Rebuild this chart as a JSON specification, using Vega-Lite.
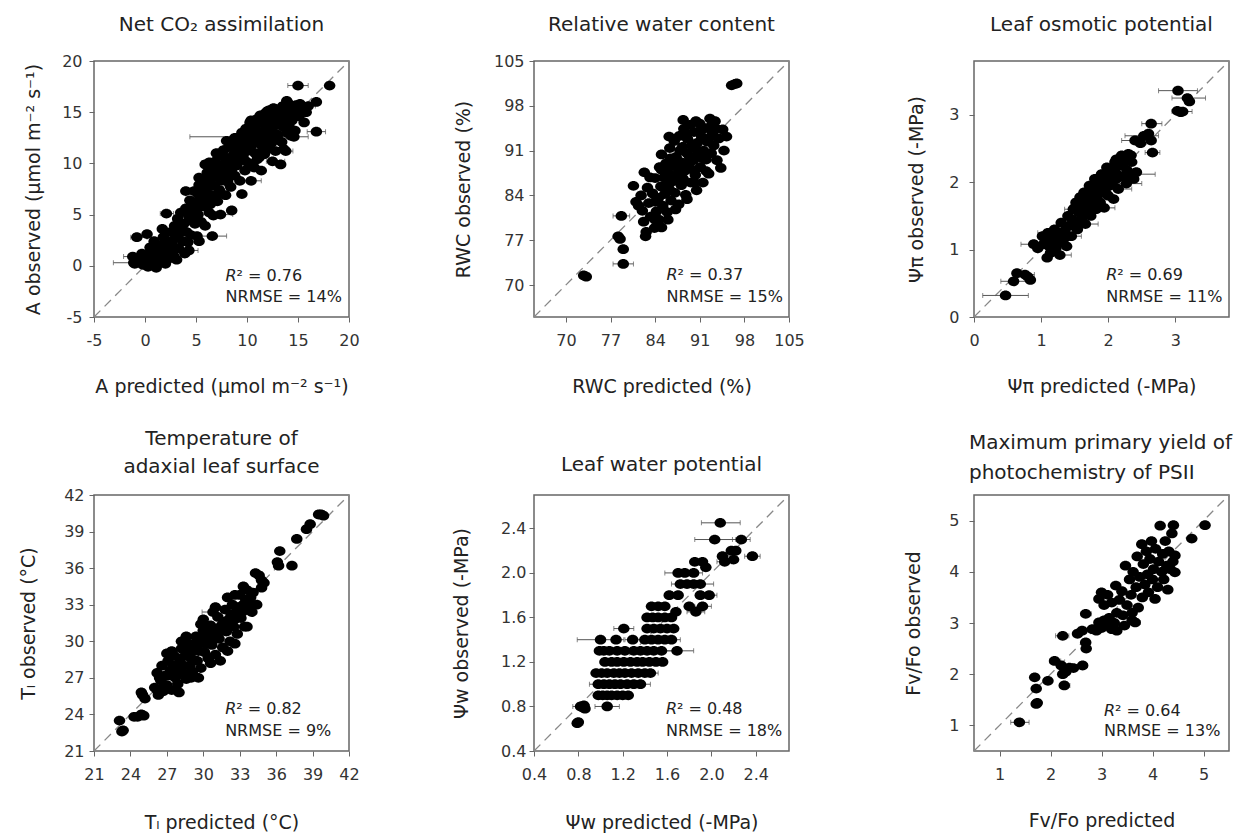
{
  "$schema": "https://vega.github.io/schema/vega-lite/v6.json",
  "background": "white",
  "padding": {"left": 18, "top": 14, "right": 5, "bottom": 5},
  "datasets": {
    "a": [
      {"pred":-1.2,"obs":0.9},{"pred":-1.0,"obs":0.2},{"pred":-0.6,"obs":0.5},{"pred":-0.3,"obs":1.2},{"pred":-0.2,"obs":0.1},{"pred":-1.1,"obs":0.3},{"pred":-0.8,"obs":2.8},{"pred":0.2,"obs":3.1},
      {"pred":0.0,"obs":0.4},{"pred":0.2,"obs":1.0},{"pred":0.3,"obs":-0.1},{"pred":0.5,"obs":0.6},{"pred":0.6,"obs":1.6},{"pred":0.8,"obs":0.2},{"pred":0.9,"obs":2.4},{"pred":1.0,"obs":0.9},{"pred":1.1,"obs":-0.2},{"pred":1.2,"obs":1.4},
      {"pred":1.4,"obs":0.3},{"pred":1.5,"obs":2.0},{"pred":1.6,"obs":0.8},{"pred":1.8,"obs":2.8},{"pred":1.9,"obs":1.3},{"pred":2.0,"obs":0.2},{"pred":2.1,"obs":5.1},{"pred":2.2,"obs":2.4},{"pred":2.3,"obs":0.7},{"pred":2.4,"obs":1.7},{"pred":2.5,"obs":3.3},
      {"pred":2.7,"obs":2.0},{"pred":2.8,"obs":1.0},{"pred":2.9,"obs":3.9},{"pred":3.0,"obs":2.7},{"pred":3.1,"obs":0.6},{"pred":3.2,"obs":4.6},{"pred":3.3,"obs":1.7},{"pred":3.4,"obs":3.2},{"pred":3.5,"obs":5.2},
      {"pred":3.7,"obs":2.4},{"pred":3.8,"obs":4.1},{"pred":3.9,"obs":1.2},{"pred":4.0,"obs":5.6},{"pred":4.1,"obs":3.3},{"pred":4.2,"obs":2.3},{"pred":4.3,"obs":4.8},{"pred":4.4,"obs":6.4},{"pred":4.5,"obs":3.0},{"pred":4.3,"obs":1.5},{"pred":4.0,"obs":7.3},
      {"pred":4.7,"obs":5.2},{"pred":4.8,"obs":7.3},{"pred":4.9,"obs":4.1},{"pred":5.0,"obs":6.1},{"pred":5.1,"obs":2.9},{"pred":5.2,"obs":5.0},{"pred":5.3,"obs":7.9},{"pred":5.4,"obs":6.7},{"pred":5.5,"obs":4.3},{"pred":5.3,"obs":2.4},{"pred":5.3,"obs":8.6},{"pred":5.2,"obs":7.0},
      {"pred":5.6,"obs":8.5},{"pred":5.7,"obs":5.8},{"pred":5.8,"obs":7.2},{"pred":5.9,"obs":3.9},{"pred":6.0,"obs":6.4},{"pred":6.1,"obs":9.1},{"pred":6.2,"obs":7.7},{"pred":6.3,"obs":5.2},{"pred":6.4,"obs":8.4},{"pred":6.5,"obs":6.9},{"pred":5.9,"obs":9.9},{"pred":6.3,"obs":10.1},
      {"pred":6.6,"obs":9.8},{"pred":6.7,"obs":4.9},{"pred":6.8,"obs":7.8},{"pred":6.9,"obs":10.2},{"pred":7.0,"obs":8.7},{"pred":7.1,"obs":6.3},{"pred":7.2,"obs":9.4},{"pred":7.3,"obs":7.4},{"pred":7.4,"obs":10.8},{"pred":7.5,"obs":8.3},{"pred":6.6,"obs":2.9},{"pred":7.4,"obs":5.0},
      {"pred":7.7,"obs":11.3},{"pred":7.8,"obs":9.0},{"pred":7.9,"obs":6.9},{"pred":8.0,"obs":9.9},{"pred":8.1,"obs":8.2},{"pred":8.2,"obs":11.6},{"pred":8.3,"obs":10.5},{"pred":8.4,"obs":7.7},{"pred":8.5,"obs":9.4},{"pred":8.5,"obs":5.4},
      {"pred":8.6,"obs":12.1},{"pred":8.7,"obs":10.9},{"pred":8.8,"obs":8.8},{"pred":8.9,"obs":11.4},{"pred":9.0,"obs":9.8},{"pred":9.1,"obs":12.5},{"pred":9.2,"obs":10.3},{"pred":9.3,"obs":8.3},{"pred":9.4,"obs":11.8},{"pred":9.5,"obs":13.0},{"pred":9.5,"obs":7.0},{"pred":8.8,"obs":12.5},
      {"pred":9.6,"obs":10.7},{"pred":9.7,"obs":12.3},{"pred":9.8,"obs":9.3},{"pred":9.9,"obs":13.4},{"pred":10.0,"obs":11.2},{"pred":10.1,"obs":12.8},{"pred":10.2,"obs":10.0},{"pred":10.3,"obs":14.0},{"pred":10.4,"obs":11.7},{"pred":10.5,"obs":12.6},{"pred":10.4,"obs":8.3},{"pred":10.4,"obs":14.2},{"pred":10.2,"obs":12.6},
      {"pred":10.6,"obs":13.6},{"pred":10.7,"obs":9.6},{"pred":10.8,"obs":11.0},{"pred":10.9,"obs":14.3},{"pred":11.0,"obs":12.2},{"pred":11.1,"obs":13.1},{"pred":11.2,"obs":10.6},{"pred":11.3,"obs":14.7},{"pred":11.4,"obs":11.8},{"pred":11.5,"obs":12.9},{"pred":11.4,"obs":9.3},
      {"pred":11.6,"obs":13.9},{"pred":11.7,"obs":10.9},{"pred":11.8,"obs":14.9},{"pred":11.9,"obs":12.4},{"pred":12.0,"obs":13.5},{"pred":12.1,"obs":11.4},{"pred":12.2,"obs":15.2},{"pred":12.3,"obs":14.1},{"pred":12.4,"obs":12.0},{"pred":12.5,"obs":13.0},{"pred":12.0,"obs":15.1},{"pred":12.5,"obs":10.2},
      {"pred":12.6,"obs":15.4},{"pred":12.7,"obs":14.3},{"pred":12.8,"obs":11.2},{"pred":12.9,"obs":12.6},{"pred":13.0,"obs":15.0},{"pred":13.1,"obs":13.8},{"pred":13.3,"obs":14.6},{"pred":13.4,"obs":12.1},{"pred":13.5,"obs":15.6},{"pred":13.3,"obs":9.9},
      {"pred":13.6,"obs":11.4},{"pred":13.7,"obs":14.0},{"pred":13.8,"obs":15.3},{"pred":13.9,"obs":13.0},{"pred":14.0,"obs":15.9},{"pred":14.2,"obs":14.5},{"pred":14.3,"obs":12.7},{"pred":14.5,"obs":15.1},{"pred":13.9,"obs":16.1},{"pred":13.8,"obs":11.2},
      {"pred":14.7,"obs":13.2},{"pred":14.8,"obs":15.7},{"pred":15.0,"obs":17.6},{"pred":15.1,"obs":14.6},{"pred":15.3,"obs":15.2},{"pred":15.6,"obs":14.0},{"pred":15.8,"obs":15.0},{"pred":16.0,"obs":15.6},{"pred":16.8,"obs":16.0},{"pred":16.8,"obs":13.1},{"pred":18.1,"obs":17.6},
      {"pred":0.5,"obs":1.8},{"pred":1.3,"obs":0.6},{"pred":2.6,"obs":1.3},{"pred":3.6,"obs":3.8},{"pred":4.6,"obs":4.4},{"pred":5.0,"obs":5.4},{"pred":5.5,"obs":7.4},{"pred":6.0,"obs":8.0},{"pred":6.4,"obs":6.0},{"pred":6.9,"obs":9.0},
      {"pred":7.2,"obs":7.0},{"pred":7.6,"obs":9.8},{"pred":7.8,"obs":10.6},{"pred":8.2,"obs":8.9},{"pred":8.6,"obs":10.2},{"pred":9.0,"obs":11.1},{"pred":9.3,"obs":12.0},{"pred":9.6,"obs":11.5},{"pred":9.9,"obs":10.2},{"pred":10.2,"obs":13.2},
      {"pred":10.6,"obs":12.0},{"pred":10.8,"obs":13.0},{"pred":11.0,"obs":10.4},{"pred":11.2,"obs":14.0},{"pred":11.5,"obs":11.2},{"pred":11.7,"obs":13.2},{"pred":12.0,"obs":12.2},{"pred":12.2,"obs":14.5},{"pred":12.6,"obs":13.6},{"pred":12.8,"obs":14.8},
      {"pred":13.0,"obs":12.8},{"pred":13.2,"obs":15.3},{"pred":13.5,"obs":13.6},{"pred":13.8,"obs":14.6},{"pred":14.1,"obs":13.7},{"pred":14.4,"obs":14.2},{"pred":14.8,"obs":14.6},{"pred":15.2,"obs":15.8},{"pred":14.6,"obs":12.6},{"pred":3.0,"obs":3.5},
      {"pred":2.0,"obs":1.2},{"pred":1.7,"obs":3.6},{"pred":4.6,"obs":6.0},{"pred":7.0,"obs":11.0},{"pred":8.0,"obs":12.2}
    ],
    "a_err": [
      {"obs":0.3,"lo":-3.1,"hi":0.9},{"obs":17.6,"lo":14.0,"hi":16.0},{"obs":13.1,"lo":15.9,"hi":17.7},{"obs":12.6,"lo":4.4,"hi":16.0},
      {"obs":5.1,"lo":1.5,"hi":2.8},{"obs":5.0,"lo":6.3,"hi":8.6},{"obs":2.9,"lo":5.3,"hi":8.0},{"obs":10.1,"lo":5.6,"hi":7.0},
      {"obs":7.0,"lo":4.0,"hi":6.4},{"obs":10.2,"lo":11.9,"hi":13.7},{"obs":11.2,"lo":13.2,"hi":14.5},{"obs":2.8,"lo":-1.4,"hi":0.2},
      {"obs":0.9,"lo":-2.1,"hi":-0.3},{"obs":1.5,"lo":3.5,"hi":5.2},{"obs":8.3,"lo":9.6,"hi":11.4},{"obs":15.6,"lo":15.2,"hi":16.7}
    ],
    "rwc": [
      {"pred":72.8,"obs":71.5},{"pred":73.2,"obs":71.3},{"pred":79.0,"obs":73.3},{"pred":79.0,"obs":75.6},{"pred":78.2,"obs":77.6},{"pred":78.5,"obs":77.2},{"pred":78.7,"obs":80.8},
      {"pred":96.0,"obs":101.2},{"pred":96.5,"obs":101.4},{"pred":96.8,"obs":101.5},
      {"pred":80.6,"obs":85.5},{"pred":81.0,"obs":83.0},{"pred":81.4,"obs":82.4},{"pred":81.8,"obs":84.0},{"pred":82.0,"obs":81.6},{"pred":82.2,"obs":79.9},{"pred":82.3,"obs":87.6},{"pred":82.5,"obs":77.6},{"pred":82.6,"obs":78.3},{"pred":82.8,"obs":85.2},
      {"pred":83.0,"obs":82.8},{"pred":83.3,"obs":80.7},{"pred":83.6,"obs":84.3},{"pred":83.9,"obs":78.9},{"pred":84.0,"obs":86.7},{"pred":84.2,"obs":81.5},{"pred":84.5,"obs":83.6},{"pred":84.6,"obs":80.2},{"pred":84.7,"obs":88.4},{"pred":84.9,"obs":85.4},
      {"pred":85.0,"obs":90.4},{"pred":85.2,"obs":82.4},{"pred":85.4,"obs":86.8},{"pred":85.5,"obs":84.2},{"pred":85.7,"obs":89.0},{"pred":85.9,"obs":81.4},{"pred":86.0,"obs":87.6},{"pred":86.2,"obs":85.0},{"pred":86.3,"obs":91.4},{"pred":86.5,"obs":83.2},
      {"pred":86.7,"obs":88.8},{"pred":86.8,"obs":86.2},{"pred":87.0,"obs":92.5},{"pred":87.1,"obs":84.4},{"pred":87.3,"obs":90.0},{"pred":87.5,"obs":87.3},{"pred":87.7,"obs":82.6},{"pred":87.8,"obs":93.3},{"pred":88.0,"obs":89.2},{"pred":88.1,"obs":85.6},
      {"pred":88.3,"obs":91.6},{"pred":88.5,"obs":94.4},{"pred":88.6,"obs":87.8},{"pred":88.8,"obs":84.1},{"pred":89.0,"obs":90.6},{"pred":89.1,"obs":92.8},{"pred":89.3,"obs":88.4},{"pred":89.5,"obs":95.0},{"pred":89.6,"obs":86.0},{"pred":89.8,"obs":91.8},
      {"pred":90.0,"obs":89.5},{"pred":90.1,"obs":93.9},{"pred":90.3,"obs":87.2},{"pred":90.5,"obs":84.8},{"pred":90.6,"obs":92.2},{"pred":90.8,"obs":90.4},{"pred":91.0,"obs":95.2},{"pred":91.1,"obs":88.4},{"pred":91.3,"obs":93.2},{"pred":91.5,"obs":86.0},
      {"pred":91.6,"obs":91.0},{"pred":91.8,"obs":94.5},{"pred":92.0,"obs":89.6},{"pred":92.2,"obs":92.4},{"pred":92.4,"obs":87.4},{"pred":92.6,"obs":96.0},{"pred":92.8,"obs":90.6},{"pred":93.0,"obs":93.8},{"pred":93.2,"obs":91.8},{"pred":93.4,"obs":95.6},
      {"pred":93.7,"obs":89.5},{"pred":94.0,"obs":92.9},{"pred":94.3,"obs":88.3},{"pred":94.6,"obs":94.3},{"pred":95.2,"obs":93.2},{"pred":88.8,"obs":88.9},
      {"pred":84.0,"obs":83.0},{"pred":85.0,"obs":88.0},{"pred":85.8,"obs":85.8},{"pred":86.4,"obs":89.8},{"pred":86.9,"obs":87.0},{"pred":87.4,"obs":88.4},{"pred":87.9,"obs":91.0},{"pred":88.4,"obs":86.6},{"pred":88.9,"obs":93.4},{"pred":89.4,"obs":90.0},
      {"pred":89.9,"obs":88.0},{"pred":90.4,"obs":91.2},{"pred":90.9,"obs":94.0},{"pred":91.4,"obs":89.8},{"pred":91.9,"obs":92.8},{"pred":92.5,"obs":93.0},{"pred":92.9,"obs":95.0},{"pred":93.6,"obs":94.4},{"pred":90.2,"obs":86.0},{"pred":89.0,"obs":83.4},
      {"pred":87.2,"obs":81.8},{"pred":86.0,"obs":80.2},{"pred":85.0,"obs":79.0},{"pred":84.0,"obs":80.2},{"pred":83.2,"obs":86.8},{"pred":86.2,"obs":93.2},{"pred":88.4,"obs":95.8},{"pred":90.4,"obs":95.6},{"pred":94.8,"obs":91.0},{"pred":92.0,"obs":87.8}
    ],
    "rwc_err": [
      {"obs":73.3,"lo":77.4,"hi":80.6},{"obs":80.8,"lo":77.4,"hi":80.0}
    ],
    "psip": [
      {"pred":0.47,"obs":0.32},{"pred":0.59,"obs":0.53},{"pred":0.64,"obs":0.65},{"pred":0.76,"obs":0.63},{"pred":0.84,"obs":0.55},{"pred":0.80,"obs":0.60},
      {"pred":0.89,"obs":1.08},{"pred":0.95,"obs":1.02},{"pred":1.04,"obs":1.08},{"pred":1.09,"obs":0.88},{"pred":1.02,"obs":1.20},{"pred":1.10,"obs":1.25},{"pred":1.14,"obs":0.95},{"pred":1.16,"obs":1.15},{"pred":1.20,"obs":1.30},{"pred":1.22,"obs":1.02},
      {"pred":1.25,"obs":1.22},{"pred":1.28,"obs":0.92},{"pred":1.30,"obs":1.40},{"pred":1.32,"obs":1.12},{"pred":1.35,"obs":1.28},{"pred":1.38,"obs":1.05},{"pred":1.40,"obs":1.50},{"pred":1.42,"obs":1.35},{"pred":1.45,"obs":1.20},{"pred":1.48,"obs":1.60},
      {"pred":1.50,"obs":1.42},{"pred":1.52,"obs":1.70},{"pred":1.54,"obs":1.30},{"pred":1.56,"obs":1.55},{"pred":1.58,"obs":1.78},{"pred":1.60,"obs":1.45},{"pred":1.62,"obs":1.65},{"pred":1.64,"obs":1.85},{"pred":1.66,"obs":1.38},{"pred":1.68,"obs":1.58},
      {"pred":1.70,"obs":1.75},{"pred":1.72,"obs":1.95},{"pred":1.74,"obs":1.50},{"pred":1.76,"obs":1.68},{"pred":1.78,"obs":1.88},{"pred":1.80,"obs":2.05},{"pred":1.82,"obs":1.60},{"pred":1.84,"obs":1.80},{"pred":1.86,"obs":1.98},{"pred":1.88,"obs":1.70},
      {"pred":1.90,"obs":2.12},{"pred":1.92,"obs":1.88},{"pred":1.94,"obs":1.62},{"pred":1.96,"obs":2.02},{"pred":1.98,"obs":2.22},{"pred":2.00,"obs":1.80},{"pred":2.02,"obs":1.95},{"pred":2.05,"obs":2.15},{"pred":2.08,"obs":1.75},{"pred":2.10,"obs":2.30},
      {"pred":2.12,"obs":2.05},{"pred":2.15,"obs":1.90},{"pred":2.18,"obs":2.25},{"pred":2.20,"obs":2.40},{"pred":2.22,"obs":2.08},{"pred":2.25,"obs":2.35},{"pred":2.28,"obs":2.18},{"pred":2.30,"obs":2.42},{"pred":2.32,"obs":2.12},{"pred":2.35,"obs":2.30},
      {"pred":2.38,"obs":2.05},{"pred":2.42,"obs":2.15},{"pred":2.27,"obs":1.98},
      {"pred":2.40,"obs":2.62},{"pred":2.53,"obs":2.69},{"pred":2.60,"obs":2.72},{"pred":2.64,"obs":2.87},{"pred":2.64,"obs":2.62},{"pred":2.66,"obs":2.44},{"pred":2.48,"obs":2.58},
      {"pred":3.04,"obs":3.36},{"pred":3.18,"obs":3.25},{"pred":3.21,"obs":3.20},{"pred":3.03,"obs":3.06},{"pred":3.11,"obs":3.05},{"pred":3.08,"obs":3.04},
      {"pred":1.12,"obs":1.05},{"pred":1.26,"obs":1.10},{"pred":1.36,"obs":1.18},{"pred":1.46,"obs":1.45},{"pred":1.56,"obs":1.40},{"pred":1.62,"obs":1.55},{"pred":1.70,"obs":1.62},{"pred":1.76,"obs":1.80},{"pred":1.84,"obs":1.70},{"pred":1.90,"obs":1.95},
      {"pred":1.96,"obs":1.85},{"pred":2.00,"obs":2.08},{"pred":2.06,"obs":2.00},{"pred":2.10,"obs":2.18},{"pred":2.16,"obs":2.10},{"pred":2.22,"obs":2.28},{"pred":2.28,"obs":2.32},{"pred":1.50,"obs":1.62},{"pred":1.66,"obs":1.75},{"pred":1.80,"obs":1.92},
      {"pred":1.18,"obs":1.20},{"pred":1.06,"obs":1.12},{"pred":2.34,"obs":2.40},{"pred":2.12,"obs":2.34},{"pred":1.72,"obs":1.85}
    ],
    "psip_err": [
      {"obs":0.32,"lo":0.13,"hi":0.81},{"obs":0.53,"lo":0.40,"hi":0.80},{"obs":0.63,"lo":0.65,"hi":0.90},{"obs":3.36,"lo":2.75,"hi":3.33},
      {"obs":3.25,"lo":2.95,"hi":3.45},{"obs":3.05,"lo":2.95,"hi":3.25},{"obs":2.87,"lo":2.50,"hi":2.80},{"obs":2.69,"lo":2.25,"hi":2.75},
      {"obs":2.62,"lo":2.20,"hi":2.60},{"obs":2.44,"lo":2.55,"hi":2.77},{"obs":2.12,"lo":2.05,"hi":2.70},{"obs":1.98,"lo":2.10,"hi":2.50},
      {"obs":1.08,"lo":0.70,"hi":1.05},{"obs":1.25,"lo":0.95,"hi":1.30},{"obs":1.38,"lo":1.50,"hi":1.85},{"obs":1.62,"lo":1.80,"hi":2.10},
      {"obs":1.90,"lo":2.00,"hi":2.35},{"obs":0.92,"lo":1.15,"hi":1.45},{"obs":1.20,"lo":1.30,"hi":1.60},{"obs":1.60,"lo":1.35,"hi":1.50}
    ],
    "tl": [
      {"pred":23.1,"obs":23.5},{"pred":23.3,"obs":22.6},{"pred":23.4,"obs":22.7},{"pred":24.3,"obs":23.8},{"pred":24.6,"obs":23.8},{"pred":24.9,"obs":24.0},{"pred":25.1,"obs":23.9},{"pred":24.9,"obs":25.8},{"pred":25.2,"obs":25.3},{"pred":25.0,"obs":25.6},
      {"pred":26.0,"obs":26.2},{"pred":26.2,"obs":27.4},{"pred":26.3,"obs":25.6},{"pred":26.5,"obs":26.8},{"pred":26.6,"obs":28.0},{"pred":26.7,"obs":25.9},{"pred":26.9,"obs":27.2},{"pred":27.0,"obs":26.4},{"pred":27.1,"obs":28.4},{"pred":27.3,"obs":27.6},
      {"pred":27.4,"obs":26.0},{"pred":27.6,"obs":28.8},{"pred":27.7,"obs":27.0},{"pred":27.9,"obs":26.5},{"pred":28.0,"obs":28.2},{"pred":28.2,"obs":29.4},{"pred":28.3,"obs":27.4},{"pred":28.5,"obs":28.8},{"pred":28.6,"obs":26.9},{"pred":28.8,"obs":29.8},
      {"pred":28.9,"obs":28.0},{"pred":29.1,"obs":27.5},{"pred":29.2,"obs":29.2},{"pred":29.4,"obs":30.4},{"pred":29.5,"obs":28.4},{"pred":29.7,"obs":29.8},{"pred":29.8,"obs":27.8},{"pred":30.0,"obs":30.9},{"pred":30.1,"obs":29.1},{"pred":30.3,"obs":30.2},
      {"pred":30.4,"obs":28.6},{"pred":30.6,"obs":31.3},{"pred":30.7,"obs":29.7},{"pred":30.9,"obs":30.7},{"pred":31.0,"obs":28.9},{"pred":31.2,"obs":32.0},{"pred":31.3,"obs":30.2},{"pred":31.5,"obs":31.3},{"pred":31.6,"obs":29.5},{"pred":31.8,"obs":32.6},
      {"pred":31.9,"obs":30.8},{"pred":32.1,"obs":31.8},{"pred":32.2,"obs":30.0},{"pred":32.4,"obs":33.0},{"pred":32.5,"obs":31.2},{"pred":32.7,"obs":32.4},{"pred":32.8,"obs":30.6},{"pred":33.0,"obs":33.8},{"pred":33.1,"obs":31.9},{"pred":33.3,"obs":33.0},
      {"pred":33.4,"obs":31.2},{"pred":33.6,"obs":34.2},{"pred":33.7,"obs":32.6},{"pred":33.9,"obs":33.6},{"pred":34.0,"obs":32.4},{"pred":34.3,"obs":35.6},{"pred":34.6,"obs":35.4},{"pred":35.0,"obs":34.8},{"pred":34.8,"obs":34.4},{"pred":33.3,"obs":34.5},
      {"pred":32.0,"obs":33.6},{"pred":30.8,"obs":32.4},{"pred":29.8,"obs":31.4},{"pred":28.6,"obs":30.4},{"pred":27.4,"obs":29.2},{"pred":28.0,"obs":25.8},{"pred":29.6,"obs":27.0},{"pred":31.4,"obs":28.4},{"pred":32.6,"obs":29.8},
      {"pred":36.3,"obs":37.4},{"pred":36.1,"obs":36.5},{"pred":36.2,"obs":36.2},{"pred":37.3,"obs":36.2},{"pred":37.7,"obs":38.4},{"pred":38.5,"obs":39.2},{"pred":38.8,"obs":39.6},{"pred":39.5,"obs":40.4},{"pred":39.7,"obs":40.4},{"pred":39.9,"obs":40.3},
      {"pred":26.4,"obs":27.0},{"pred":26.8,"obs":26.4},{"pred":27.2,"obs":27.2},{"pred":27.5,"obs":28.0},{"pred":27.8,"obs":27.6},{"pred":28.1,"obs":28.6},{"pred":28.4,"obs":28.0},{"pred":28.7,"obs":29.2},{"pred":29.0,"obs":28.6},{"pred":29.3,"obs":29.8},
      {"pred":29.6,"obs":29.2},{"pred":29.9,"obs":30.2},{"pred":30.2,"obs":29.8},{"pred":30.5,"obs":30.6},{"pred":30.8,"obs":30.2},{"pred":31.1,"obs":31.0},{"pred":31.4,"obs":30.8},{"pred":31.7,"obs":31.6},{"pred":32.0,"obs":31.2},{"pred":32.3,"obs":32.2},
      {"pred":32.6,"obs":31.8},{"pred":32.9,"obs":32.8},{"pred":33.2,"obs":32.4},{"pred":33.5,"obs":33.4},{"pred":33.8,"obs":33.0},{"pred":34.1,"obs":34.0},{"pred":26.2,"obs":26.0},{"pred":27.0,"obs":29.0},{"pred":28.2,"obs":30.0},{"pred":30.0,"obs":31.8},
      {"pred":31.0,"obs":32.8},{"pred":32.6,"obs":33.8},{"pred":29.0,"obs":27.0},{"pred":30.6,"obs":28.2},{"pred":32.0,"obs":29.2},{"pred":33.6,"obs":31.2},{"pred":34.4,"obs":33.0},{"pred":34.8,"obs":35.0}
    ],
    "tl_err": [
      {"obs":32.4,"lo":29.9,"hi":30.7},{"obs":34.2,"lo":33.2,"hi":34.0},{"obs":32.4,"lo":33.6,"hi":34.4},{"obs":26.9,"lo":28.2,"hi":29.0}
    ],
    "psiw": [
      {"pred":0.79,"obs":0.65},{"pred":0.80,"obs":0.66},
      {"pred":0.82,"obs":0.80},{"pred":0.84,"obs":0.79},{"pred":0.86,"obs":0.78},{"pred":0.85,"obs":0.81},{"pred":1.06,"obs":0.80},
      {"pred":0.98,"obs":0.90},{"pred":1.02,"obs":0.90},{"pred":1.06,"obs":0.90},{"pred":1.10,"obs":0.90},{"pred":1.15,"obs":0.90},{"pred":1.20,"obs":0.90},{"pred":1.25,"obs":0.90},
      {"pred":0.98,"obs":1.00},{"pred":1.03,"obs":1.00},{"pred":1.08,"obs":1.00},{"pred":1.13,"obs":1.00},{"pred":1.18,"obs":1.00},{"pred":1.24,"obs":1.00},{"pred":1.30,"obs":1.00},{"pred":1.36,"obs":1.00},
      {"pred":0.96,"obs":1.10},{"pred":1.01,"obs":1.10},{"pred":1.06,"obs":1.10},{"pred":1.12,"obs":1.10},{"pred":1.17,"obs":1.10},{"pred":1.22,"obs":1.10},{"pred":1.28,"obs":1.10},{"pred":1.34,"obs":1.10},{"pred":1.40,"obs":1.10},{"pred":1.45,"obs":1.10},
      {"pred":1.04,"obs":1.20},{"pred":1.10,"obs":1.20},{"pred":1.15,"obs":1.20},{"pred":1.21,"obs":1.20},{"pred":1.27,"obs":1.20},{"pred":1.33,"obs":1.20},{"pred":1.38,"obs":1.20},{"pred":1.44,"obs":1.20},{"pred":1.50,"obs":1.20},{"pred":1.56,"obs":1.20},
      {"pred":0.99,"obs":1.30},{"pred":1.03,"obs":1.30},{"pred":1.08,"obs":1.30},{"pred":1.15,"obs":1.30},{"pred":1.22,"obs":1.30},{"pred":1.30,"obs":1.30},{"pred":1.36,"obs":1.30},{"pred":1.42,"obs":1.30},{"pred":1.48,"obs":1.30},{"pred":1.55,"obs":1.30},{"pred":1.69,"obs":1.30},
      {"pred":1.00,"obs":1.40},{"pred":1.14,"obs":1.40},{"pred":1.29,"obs":1.40},{"pred":1.40,"obs":1.40},{"pred":1.46,"obs":1.40},{"pred":1.52,"obs":1.40},{"pred":1.58,"obs":1.40},{"pred":1.64,"obs":1.40},
      {"pred":1.21,"obs":1.50},{"pred":1.42,"obs":1.50},{"pred":1.48,"obs":1.50},{"pred":1.54,"obs":1.50},{"pred":1.60,"obs":1.50},{"pred":1.66,"obs":1.50},
      {"pred":1.42,"obs":1.60},{"pred":1.47,"obs":1.60},{"pred":1.52,"obs":1.60},{"pred":1.58,"obs":1.60},{"pred":1.64,"obs":1.60},{"pred":1.68,"obs":1.65},{"pred":1.86,"obs":1.65},
      {"pred":1.46,"obs":1.70},{"pred":1.52,"obs":1.70},{"pred":1.58,"obs":1.70},{"pred":1.80,"obs":1.70},{"pred":1.92,"obs":1.70},
      {"pred":1.62,"obs":1.80},{"pred":1.70,"obs":1.80},{"pred":1.90,"obs":1.80},{"pred":1.98,"obs":1.80},
      {"pred":1.72,"obs":1.90},{"pred":1.78,"obs":1.90},{"pred":1.84,"obs":1.90},{"pred":1.90,"obs":1.90},
      {"pred":1.70,"obs":2.00},{"pred":1.76,"obs":2.00},{"pred":1.84,"obs":2.00},{"pred":1.95,"obs":2.05},
      {"pred":1.85,"obs":2.10},{"pred":1.92,"obs":2.10},{"pred":2.12,"obs":2.10},{"pred":2.20,"obs":2.12},
      {"pred":2.10,"obs":2.15},{"pred":2.18,"obs":2.20},{"pred":2.22,"obs":2.20},{"pred":2.37,"obs":2.15},{"pred":2.03,"obs":2.30},{"pred":2.27,"obs":2.30},{"pred":2.08,"obs":2.45}
    ],
    "psiw_err": [
      {"obs":2.45,"lo":1.91,"hi":2.26},{"obs":2.30,"lo":1.85,"hi":2.22},{"obs":2.30,"lo":2.19,"hi":2.35},{"obs":2.15,"lo":2.30,"hi":2.44},
      {"obs":1.40,"lo":0.79,"hi":1.21},{"obs":1.50,"lo":1.12,"hi":1.30},{"obs":1.30,"lo":1.55,"hi":1.84},{"obs":0.80,"lo":0.95,"hi":1.17},
      {"obs":0.80,"lo":0.75,"hi":0.90},{"obs":0.65,"lo":0.75,"hi":0.84},{"obs":2.00,"lo":1.58,"hi":1.82},{"obs":1.90,"lo":1.64,"hi":1.80},
      {"obs":2.00,"lo":1.76,"hi":1.92},{"obs":1.70,"lo":1.85,"hi":2.00},{"obs":1.80,"lo":1.88,"hi":2.05},{"obs":1.90,"lo":1.82,"hi":2.02},
      {"obs":0.90,"lo":1.05,"hi":1.25},{"obs":1.00,"lo":0.90,"hi":1.06},{"obs":1.30,"lo":0.95,"hi":1.12},{"obs":1.30,"lo":1.45,"hi":1.65},
      {"obs":1.40,"lo":1.55,"hi":1.72},{"obs":1.00,"lo":1.28,"hi":1.45},{"obs":1.10,"lo":1.38,"hi":1.52},{"obs":1.65,"lo":1.78,"hi":1.94},
      {"obs":2.10,"lo":2.05,"hi":2.18},{"obs":1.40,"lo":1.22,"hi":1.40}
    ],
    "fv": [
      {"pred":1.39,"obs":1.06},{"pred":1.72,"obs":1.42},{"pred":1.74,"obs":1.44},{"pred":1.72,"obs":1.72},{"pred":1.69,"obs":1.94},{"pred":1.95,"obs":1.87},{"pred":2.24,"obs":2.75},{"pred":2.69,"obs":3.18},
      {"pred":2.08,"obs":2.26},{"pred":2.21,"obs":2.17},{"pred":2.24,"obs":2.0},{"pred":2.37,"obs":2.13},{"pred":2.63,"obs":2.17},{"pred":2.27,"obs":1.78},{"pred":2.30,"obs":2.05},{"pred":2.45,"obs":2.12},
      {"pred":2.53,"obs":2.79},{"pred":2.69,"obs":2.62},{"pred":2.70,"obs":2.50},{"pred":2.82,"obs":2.88},{"pred":2.62,"obs":2.85},
      {"pred":2.95,"obs":3.01},{"pred":2.90,"obs":2.85},{"pred":3.00,"obs":2.90},{"pred":3.05,"obs":3.05},{"pred":3.10,"obs":2.95},{"pred":3.15,"obs":3.10},{"pred":3.20,"obs":2.88},{"pred":3.25,"obs":3.00},{"pred":3.30,"obs":2.85},
      {"pred":2.95,"obs":3.47},{"pred":3.00,"obs":3.60},{"pred":3.05,"obs":3.35},{"pred":3.12,"obs":3.55},{"pred":3.20,"obs":3.40},{"pred":3.28,"obs":3.73},{"pred":3.30,"obs":3.20},{"pred":3.35,"obs":3.45},{"pred":3.40,"obs":3.62},{"pred":3.42,"obs":3.15},
      {"pred":3.47,"obs":4.12},{"pred":3.50,"obs":3.35},{"pred":3.55,"obs":3.85},{"pred":3.58,"obs":3.55},{"pred":3.60,"obs":3.05},{"pred":3.62,"obs":4.00},{"pred":3.66,"obs":3.01},{"pred":3.68,"obs":3.70},{"pred":3.70,"obs":4.30},{"pred":3.72,"obs":3.30},
      {"pred":3.75,"obs":3.90},{"pred":3.79,"obs":4.54},{"pred":3.80,"obs":3.50},{"pred":3.82,"obs":4.15},{"pred":3.85,"obs":3.75},{"pred":3.88,"obs":4.40},{"pred":3.90,"obs":3.95},{"pred":3.92,"obs":3.60},{"pred":3.95,"obs":4.25},{"pred":3.98,"obs":4.60},
      {"pred":4.00,"obs":3.85},{"pred":4.02,"obs":4.05},{"pred":4.05,"obs":3.47},{"pred":4.06,"obs":4.45},{"pred":4.10,"obs":3.70},{"pred":4.12,"obs":4.20},{"pred":4.15,"obs":4.90},{"pred":4.18,"obs":4.00},{"pred":4.20,"obs":4.35},{"pred":4.22,"obs":3.85},
      {"pred":4.25,"obs":4.60},{"pred":4.28,"obs":4.12},{"pred":4.30,"obs":3.65},{"pred":4.32,"obs":4.40},{"pred":4.35,"obs":4.05},{"pred":4.38,"obs":4.75},{"pred":4.41,"obs":4.91},{"pred":4.44,"obs":3.99},{"pred":4.44,"obs":4.32},{"pred":4.40,"obs":4.20},
      {"pred":4.77,"obs":4.65},{"pred":5.03,"obs":4.91},{"pred":3.45,"obs":2.95},{"pred":3.60,"obs":3.20}
    ],
    "fv_err": [
      {"obs":1.06,"lo":1.22,"hi":1.58},{"obs":2.75,"lo":2.10,"hi":2.36},{"obs":3.18,"lo":2.60,"hi":2.80},{"obs":1.78,"lo":2.18,"hi":2.38},
      {"obs":2.26,"lo":1.98,"hi":2.20},{"obs":2.17,"lo":2.56,"hi":2.72},{"obs":4.32,"lo":4.35,"hi":4.52},{"obs":3.01,"lo":3.60,"hi":3.76}
    ]
  },
  "concat": [
    {
      "width": 255, "height": 256,
      "title": {"text": "Net CO₂ assimilation", "offset": 18, "frame": "group"},
      "layer": [
        {"data": {"values": [{}]}, "mark": {"type": "rule", "color": "#888", "strokeDash": [9, 6], "strokeWidth": 1.3},
         "encoding": {"x": {"datum": -5, "type": "quantitative"}, "y": {"datum": -5, "type": "quantitative"}, "x2": {"datum": 20}, "y2": {"datum": 20}}},
        {"data": {"name": "a_err"}, "mark": {"type": "errorbar", "ticks": true, "color": "#555"},
         "encoding": {"x": {"field": "lo", "type": "quantitative", "axis": {"title": "A predicted (μmol m⁻² s⁻¹)", "values": [-5, 0, 5, 10, 15, 20], "tickCount": 20, "labelExpr": "'' + datum.value", "labelOverlap": false, "labelPadding": 10, "titlePadding": 29}},
                      "x2": {"field": "hi"},
                      "y": {"field": "obs", "type": "quantitative", "axis": {"title": "A observed (μmol m⁻² s⁻¹)", "values": [-5, 0, 5, 10, 15, 20], "tickCount": 20, "labelExpr": "'' + datum.value", "labelOverlap": false, "labelPadding": 7, "titlePadding": 18}}}},
        {"data": {"name": "a"}, "mark": {"type": "point", "shape": "M -1 0 A 1 0.85 0 1 0 1 0 A 1 0.85 0 1 0 -1 0 Z", "filled": true, "size": 132, "color": "black", "opacity": 1, "strokeWidth": 0},
         "encoding": {"x": {"field": "pred", "type": "quantitative", "scale": {"domain": [-5, 20], "nice": false, "zero": false},
                            "axis": {"title": "A predicted (μmol m⁻² s⁻¹)", "values": [-5, 0, 5, 10, 15, 20], "tickCount": 20, "labelExpr": "'' + datum.value", "labelOverlap": false, "labelPadding": 10, "titlePadding": 29}},
                      "y": {"field": "obs", "type": "quantitative", "scale": {"domain": [-5, 20], "nice": false, "zero": false},
                            "axis": {"title": "A observed (μmol m⁻² s⁻¹)", "values": [-5, 0, 5, 10, 15, 20], "tickCount": 20, "labelExpr": "'' + datum.value", "labelOverlap": false, "labelPadding": 7, "titlePadding": 18}}}},
        {"data": {"values": [{}]}, "mark": {"type": "text", "align": "left", "baseline": "middle", "fontSize": 16, "fontStyle": "italic", "color": "#222"},
         "encoding": {"x": {"datum": 7.9, "type": "quantitative"}, "y": {"datum": -1.0, "type": "quantitative"}, "text": {"value": "R"}}},
        {"data": {"values": [{}]}, "mark": {"type": "text", "align": "left", "baseline": "middle", "fontSize": 16, "dx": 11, "color": "#222"},
         "encoding": {"x": {"datum": 7.9, "type": "quantitative"}, "y": {"datum": -1.0, "type": "quantitative"}, "text": {"value": "² = 0.76"}}},
        {"data": {"values": [{}]}, "mark": {"type": "text", "align": "left", "baseline": "middle", "fontSize": 16, "color": "#222"},
         "encoding": {"x": {"datum": 7.9, "type": "quantitative"}, "y": {"datum": -3.05, "type": "quantitative"}, "text": {"value": "NRMSE = 14%"}}}
      ]
    },
    {
      "width": 255, "height": 256,
      "title": {"text": "Relative water content", "offset": 18, "frame": "group"},
      "layer": [
        {"data": {"values": [{}]}, "mark": {"type": "rule", "color": "#888", "strokeDash": [9, 6], "strokeWidth": 1.3},
         "encoding": {"x": {"datum": 65, "type": "quantitative"}, "y": {"datum": 65, "type": "quantitative"}, "x2": {"datum": 105}, "y2": {"datum": 105}}},
        {"data": {"name": "rwc_err"}, "mark": {"type": "errorbar", "ticks": true, "color": "#555"},
         "encoding": {"x": {"field": "lo", "type": "quantitative", "axis": {"title": "RWC predicted (%)", "values": [70, 77, 84, 91, 98, 105], "tickCount": 20, "labelOverlap": false, "labelPadding": 10, "titlePadding": 29}},
                      "x2": {"field": "hi"},
                      "y": {"field": "obs", "type": "quantitative", "axis": {"title": "RWC observed (%)", "values": [70, 77, 84, 91, 98, 105], "tickCount": 20, "labelOverlap": false, "labelPadding": 5, "titlePadding": 20}}}},
        {"data": {"name": "rwc"}, "mark": {"type": "point", "shape": "M -1 0 A 1 0.85 0 1 0 1 0 A 1 0.85 0 1 0 -1 0 Z", "filled": true, "size": 132, "color": "black", "opacity": 1, "strokeWidth": 0},
         "encoding": {"x": {"field": "pred", "type": "quantitative", "scale": {"domain": [65, 105], "nice": false, "zero": false},
                            "axis": {"title": "RWC predicted (%)", "values": [70, 77, 84, 91, 98, 105], "tickCount": 20, "labelOverlap": false, "labelPadding": 10, "titlePadding": 29}},
                      "y": {"field": "obs", "type": "quantitative", "scale": {"domain": [65, 105], "nice": false, "zero": false},
                            "axis": {"title": "RWC observed (%)", "values": [70, 77, 84, 91, 98, 105], "tickCount": 20, "labelOverlap": false, "labelPadding": 5, "titlePadding": 20}}}},
        {"data": {"values": [{}]}, "mark": {"type": "text", "align": "left", "baseline": "middle", "fontSize": 16, "fontStyle": "italic", "color": "#222"},
         "encoding": {"x": {"datum": 85.8, "type": "quantitative"}, "y": {"datum": 71.6, "type": "quantitative"}, "text": {"value": "R"}}},
        {"data": {"values": [{}]}, "mark": {"type": "text", "align": "left", "baseline": "middle", "fontSize": 16, "dx": 11, "color": "#222"},
         "encoding": {"x": {"datum": 85.8, "type": "quantitative"}, "y": {"datum": 71.6, "type": "quantitative"}, "text": {"value": "² = 0.37"}}},
        {"data": {"values": [{}]}, "mark": {"type": "text", "align": "left", "baseline": "middle", "fontSize": 16, "color": "#222"},
         "encoding": {"x": {"datum": 85.8, "type": "quantitative"}, "y": {"datum": 68.1, "type": "quantitative"}, "text": {"value": "NRMSE = 15%"}}}
      ]
    },
    {
      "width": 255, "height": 256,
      "title": {"text": "Leaf osmotic potential", "offset": 25, "frame": "group"},
      "layer": [
        {"data": {"values": [{}]}, "mark": {"type": "rule", "color": "#888", "strokeDash": [9, 6], "strokeWidth": 1.3},
         "encoding": {"x": {"datum": 0, "type": "quantitative"}, "y": {"datum": 0, "type": "quantitative"}, "x2": {"datum": 3.8}, "y2": {"datum": 3.8}}},
        {"data": {"name": "psip_err"}, "mark": {"type": "errorbar", "ticks": true, "color": "#555"},
         "encoding": {"x": {"field": "lo", "type": "quantitative", "axis": {"title": "Ψπ predicted (-MPa)", "values": [0, 1, 2, 3], "tickCount": 20, "format": "d", "labelOverlap": false, "labelPadding": 10, "titlePadding": 29}},
                      "x2": {"field": "hi"},
                      "y": {"field": "obs", "type": "quantitative", "axis": {"title": "Ψπ observed (-MPa)", "values": [0, 1, 2, 3], "tickCount": 20, "format": "d", "labelOverlap": false, "labelPadding": 10, "titlePadding": 22}}}},
        {"data": {"name": "psip"}, "mark": {"type": "point", "shape": "M -1 0 A 1 0.85 0 1 0 1 0 A 1 0.85 0 1 0 -1 0 Z", "filled": true, "size": 132, "color": "black", "opacity": 1, "strokeWidth": 0},
         "encoding": {"x": {"field": "pred", "type": "quantitative", "scale": {"domain": [0, 3.8], "nice": false, "zero": false},
                            "axis": {"title": "Ψπ predicted (-MPa)", "values": [0, 1, 2, 3], "tickCount": 20, "format": "d", "labelOverlap": false, "labelPadding": 10, "titlePadding": 29}},
                      "y": {"field": "obs", "type": "quantitative", "scale": {"domain": [0, 3.8], "nice": false, "zero": false},
                            "axis": {"title": "Ψπ observed (-MPa)", "values": [0, 1, 2, 3], "tickCount": 20, "format": "d", "labelOverlap": false, "labelPadding": 10, "titlePadding": 22}}}},
        {"data": {"values": [{}]}, "mark": {"type": "text", "align": "left", "baseline": "middle", "fontSize": 16, "fontStyle": "italic", "color": "#222"},
         "encoding": {"x": {"datum": 1.97, "type": "quantitative"}, "y": {"datum": 0.62, "type": "quantitative"}, "text": {"value": "R"}}},
        {"data": {"values": [{}]}, "mark": {"type": "text", "align": "left", "baseline": "middle", "fontSize": 16, "dx": 11, "color": "#222"},
         "encoding": {"x": {"datum": 1.97, "type": "quantitative"}, "y": {"datum": 0.62, "type": "quantitative"}, "text": {"value": "² = 0.69"}}},
        {"data": {"values": [{}]}, "mark": {"type": "text", "align": "left", "baseline": "middle", "fontSize": 16, "color": "#222"},
         "encoding": {"x": {"datum": 1.97, "type": "quantitative"}, "y": {"datum": 0.30, "type": "quantitative"}, "text": {"value": "NRMSE = 11%"}}}
      ]
    },
    {
      "width": 255, "height": 256,
      "title": {"text": ["Temperature of", "adaxial leaf surface"], "offset": 10, "lineHeight": 28, "frame": "group"},
      "layer": [
        {"data": {"values": [{}]}, "mark": {"type": "rule", "color": "#888", "strokeDash": [9, 6], "strokeWidth": 1.3},
         "encoding": {"x": {"datum": 21, "type": "quantitative"}, "y": {"datum": 21, "type": "quantitative"}, "x2": {"datum": 42}, "y2": {"datum": 42}}},
        {"data": {"name": "tl_err"}, "mark": {"type": "errorbar", "ticks": true, "color": "#555"},
         "encoding": {"x": {"field": "lo", "type": "quantitative", "axis": {"title": "Tₗ predicted (°C)", "values": [21, 24, 27, 30, 33, 36, 39, 42], "tickCount": 20, "labelOverlap": false, "labelPadding": 10, "titlePadding": 31}},
                      "x2": {"field": "hi"},
                      "y": {"field": "obs", "type": "quantitative", "axis": {"title": "Tₗ observed (°C)", "values": [21, 24, 27, 30, 33, 36, 39, 42], "tickCount": 20, "labelOverlap": false, "labelPadding": 5, "titlePadding": 25}}}},
        {"data": {"name": "tl"}, "mark": {"type": "point", "shape": "M -1 0 A 1 0.85 0 1 0 1 0 A 1 0.85 0 1 0 -1 0 Z", "filled": true, "size": 132, "color": "black", "opacity": 1, "strokeWidth": 0},
         "encoding": {"x": {"field": "pred", "type": "quantitative", "scale": {"domain": [21, 42], "nice": false, "zero": false},
                            "axis": {"title": "Tₗ predicted (°C)", "values": [21, 24, 27, 30, 33, 36, 39, 42], "tickCount": 20, "labelOverlap": false, "labelPadding": 10, "titlePadding": 31}},
                      "y": {"field": "obs", "type": "quantitative", "scale": {"domain": [21, 42], "nice": false, "zero": false},
                            "axis": {"title": "Tₗ observed (°C)", "values": [21, 24, 27, 30, 33, 36, 39, 42], "tickCount": 20, "labelOverlap": false, "labelPadding": 5, "titlePadding": 25}}}},
        {"data": {"values": [{}]}, "mark": {"type": "text", "align": "left", "baseline": "middle", "fontSize": 16, "fontStyle": "italic", "color": "#222"},
         "encoding": {"x": {"datum": 31.8, "type": "quantitative"}, "y": {"datum": 24.44, "type": "quantitative"}, "text": {"value": "R"}}},
        {"data": {"values": [{}]}, "mark": {"type": "text", "align": "left", "baseline": "middle", "fontSize": 16, "dx": 11, "color": "#222"},
         "encoding": {"x": {"datum": 31.8, "type": "quantitative"}, "y": {"datum": 24.44, "type": "quantitative"}, "text": {"value": "² = 0.82"}}},
        {"data": {"values": [{}]}, "mark": {"type": "text", "align": "left", "baseline": "middle", "fontSize": 16, "color": "#222"},
         "encoding": {"x": {"datum": 31.8, "type": "quantitative"}, "y": {"datum": 22.64, "type": "quantitative"}, "text": {"value": "NRMSE = 9%"}}}
      ]
    },
    {
      "width": 255, "height": 256,
      "title": {"text": "Leaf water potential", "offset": 19, "frame": "group"},
      "layer": [
        {"data": {"values": [{}]}, "mark": {"type": "rule", "color": "#888", "strokeDash": [9, 6], "strokeWidth": 1.3},
         "encoding": {"x": {"datum": 0.4, "type": "quantitative"}, "y": {"datum": 0.4, "type": "quantitative"}, "x2": {"datum": 2.7}, "y2": {"datum": 2.7}}},
        {"data": {"name": "psiw_err"}, "mark": {"type": "errorbar", "ticks": true, "color": "#555"},
         "encoding": {"x": {"field": "lo", "type": "quantitative", "axis": {"title": "Ψw predicted (-MPa)", "values": [0.4, 0.8, 1.2, 1.6, 2.0, 2.4], "tickCount": 20, "format": ".1f", "labelOverlap": false, "labelPadding": 10, "titlePadding": 31}},
                      "x2": {"field": "hi"},
                      "y": {"field": "obs", "type": "quantitative", "axis": {"title": "Ψw observed (-MPa)", "values": [0.4, 0.8, 1.2, 1.6, 2.0, 2.4], "tickCount": 20, "format": ".1f", "labelOverlap": false, "labelPadding": 3, "titlePadding": 29}}}},
        {"data": {"name": "psiw"}, "mark": {"type": "point", "shape": "M -1 0 A 1 0.85 0 1 0 1 0 A 1 0.85 0 1 0 -1 0 Z", "filled": true, "size": 132, "color": "black", "opacity": 1, "strokeWidth": 0},
         "encoding": {"x": {"field": "pred", "type": "quantitative", "scale": {"domain": [0.4, 2.7], "nice": false, "zero": false},
                            "axis": {"title": "Ψw predicted (-MPa)", "values": [0.4, 0.8, 1.2, 1.6, 2.0, 2.4], "tickCount": 20, "format": ".1f", "labelOverlap": false, "labelPadding": 10, "titlePadding": 31}},
                      "y": {"field": "obs", "type": "quantitative", "scale": {"domain": [0.4, 2.7], "nice": false, "zero": false},
                            "axis": {"title": "Ψw observed (-MPa)", "values": [0.4, 0.8, 1.2, 1.6, 2.0, 2.4], "tickCount": 20, "format": ".1f", "labelOverlap": false, "labelPadding": 3, "titlePadding": 29}}}},
        {"data": {"values": [{}]}, "mark": {"type": "text", "align": "left", "baseline": "middle", "fontSize": 16, "fontStyle": "italic", "color": "#222"},
         "encoding": {"x": {"datum": 1.59, "type": "quantitative"}, "y": {"datum": 0.776, "type": "quantitative"}, "text": {"value": "R"}}},
        {"data": {"values": [{}]}, "mark": {"type": "text", "align": "left", "baseline": "middle", "fontSize": 16, "dx": 11, "color": "#222"},
         "encoding": {"x": {"datum": 1.59, "type": "quantitative"}, "y": {"datum": 0.776, "type": "quantitative"}, "text": {"value": "² = 0.48"}}},
        {"data": {"values": [{}]}, "mark": {"type": "text", "align": "left", "baseline": "middle", "fontSize": 16, "color": "#222"},
         "encoding": {"x": {"datum": 1.59, "type": "quantitative"}, "y": {"datum": 0.58, "type": "quantitative"}, "text": {"value": "NRMSE = 18%"}}}
      ]
    },
    {
      "width": 255, "height": 256,
      "title": {"text": ["Maximum primary yield of", "photochemistry of PSII"], "offset": 11, "lineHeight": 30, "anchor": "start", "frame": "group", "dx": -5},
      "layer": [
        {"data": {"values": [{}]}, "mark": {"type": "rule", "color": "#888", "strokeDash": [9, 6], "strokeWidth": 1.3},
         "encoding": {"x": {"datum": 0.5, "type": "quantitative"}, "y": {"datum": 0.5, "type": "quantitative"}, "x2": {"datum": 5.5}, "y2": {"datum": 5.5}}},
        {"data": {"name": "fv_err"}, "mark": {"type": "errorbar", "ticks": true, "color": "#555"},
         "encoding": {"x": {"field": "lo", "type": "quantitative", "axis": {"title": "Fv/Fo predicted", "values": [1, 2, 3, 4, 5], "tickCount": 20, "format": "d", "labelOverlap": false, "labelPadding": 10, "titlePadding": 29}},
                      "x2": {"field": "hi"},
                      "y": {"field": "obs", "type": "quantitative", "axis": {"title": "Fv/Fo observed", "values": [1, 2, 3, 4, 5], "tickCount": 20, "format": "d", "labelOverlap": false, "labelPadding": 10, "titlePadding": 25}}}},
        {"data": {"name": "fv"}, "mark": {"type": "point", "shape": "M -1 0 A 1 0.85 0 1 0 1 0 A 1 0.85 0 1 0 -1 0 Z", "filled": true, "size": 132, "color": "black", "opacity": 1, "strokeWidth": 0},
         "encoding": {"x": {"field": "pred", "type": "quantitative", "scale": {"domain": [0.5, 5.5], "nice": false, "zero": false},
                            "axis": {"title": "Fv/Fo predicted", "values": [1, 2, 3, 4, 5], "tickCount": 20, "format": "d", "labelOverlap": false, "labelPadding": 10, "titlePadding": 29}},
                      "y": {"field": "obs", "type": "quantitative", "scale": {"domain": [0.5, 5.5], "nice": false, "zero": false},
                            "axis": {"title": "Fv/Fo observed", "values": [1, 2, 3, 4, 5], "tickCount": 20, "format": "d", "labelOverlap": false, "labelPadding": 10, "titlePadding": 25}}}},
        {"data": {"values": [{}]}, "mark": {"type": "text", "align": "left", "baseline": "middle", "fontSize": 16, "fontStyle": "italic", "color": "#222"},
         "encoding": {"x": {"datum": 3.05, "type": "quantitative"}, "y": {"datum": 1.28, "type": "quantitative"}, "text": {"value": "R"}}},
        {"data": {"values": [{}]}, "mark": {"type": "text", "align": "left", "baseline": "middle", "fontSize": 16, "dx": 11, "color": "#222"},
         "encoding": {"x": {"datum": 3.05, "type": "quantitative"}, "y": {"datum": 1.28, "type": "quantitative"}, "text": {"value": "² = 0.64"}}},
        {"data": {"values": [{}]}, "mark": {"type": "text", "align": "left", "baseline": "middle", "fontSize": 16, "color": "#222"},
         "encoding": {"x": {"datum": 3.05, "type": "quantitative"}, "y": {"datum": 0.89, "type": "quantitative"}, "text": {"value": "NRMSE = 13%"}}}
      ]
    }
  ],
  "columns": 3,
  "spacing": {"row": 178, "column": 185},
  "bounds": "flush",
  "config": {
    "font": "DejaVu Sans",
    "view": {"stroke": "#666", "strokeWidth": 1.5},
    "axis": {"labelFont": "DejaVu Sans", "titleFont": "DejaVu Sans", "labelFontSize": 16, "titleFontSize": 19, "titleFontWeight": "normal",
             "labelColor": "#333", "titleColor": "#222", "tickColor": "#666", "tickSize": 5, "domain": false, "grid": false, "labelFlush": false, "labelOverlap": false},
    "title": {"font": "DejaVu Sans", "fontSize": 20, "fontWeight": "normal", "color": "#222", "anchor": "middle"},
    "text": {"font": "DejaVu Sans"}
  }
}
